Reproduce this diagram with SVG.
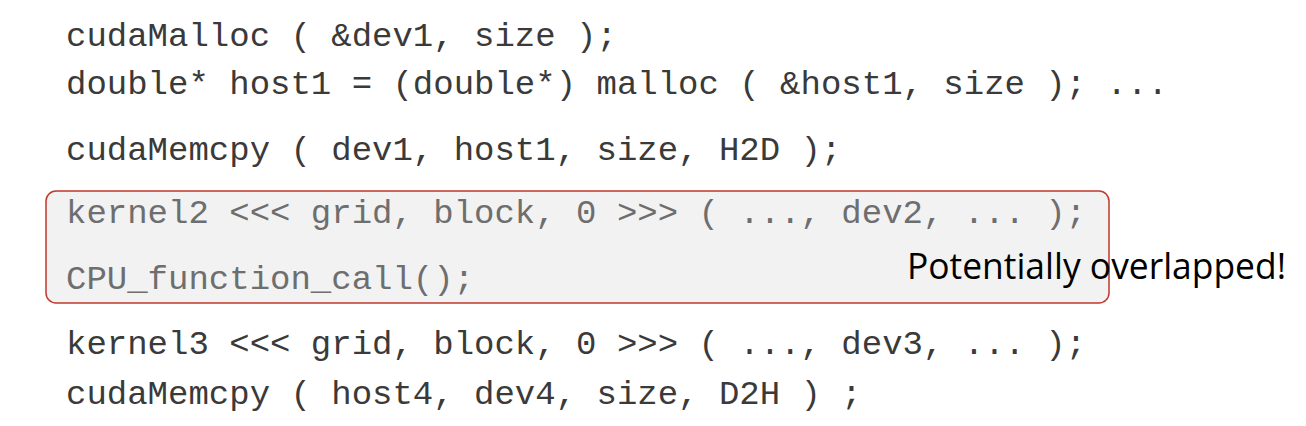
<svg xmlns="http://www.w3.org/2000/svg" width="1306" height="426" viewBox="0 0 1306 426">
  <style>
    .code { font-family: "Liberation Mono", "Courier New", monospace; font-size: 34px; fill: #3a3a3a; }
    .dim { fill: #6e6e6e; }
    .note { font-family: "Open Sans", "Liberation Sans", sans-serif; font-size: 37px; fill: #000000; }
  </style>
  <rect width="1306" height="426" fill="#ffffff"/>
  <g id="overlap-box">
    <rect x="46" y="191" width="1063" height="112" rx="10" ry="10" fill="#f2f2f2" stroke="#c0392b" stroke-width="1.5"/>
  </g>
  <g id="code">
    <text class="code" x="66" y="46">cudaMalloc ( &amp;dev1, size );</text>
    <text class="code" x="66" y="94">double* host1 = (double*) malloc ( &amp;host1, size ); ...</text>
    <text class="code" x="66" y="160">cudaMemcpy ( dev1, host1, size, H2D );</text>
    <text class="code dim" x="66" y="223">kernel2 &lt;&lt;&lt; grid, block, 0 &gt;&gt;&gt; ( ..., dev2, ... );</text>
    <text class="code dim" x="66" y="289">CPU_function_call();</text>
    <text class="code" x="66" y="354">kernel3 &lt;&lt;&lt; grid, block, 0 &gt;&gt;&gt; ( ..., dev3, ... );</text>
    <text class="code" x="66" y="404">cudaMemcpy ( host4, dev4, size, D2H ) ;</text>
  </g>
  <g id="note">
    <text class="note" x="907" y="279" textLength="379" lengthAdjust="spacingAndGlyphs">Potentially overlapped!</text>
  </g>
</svg>
